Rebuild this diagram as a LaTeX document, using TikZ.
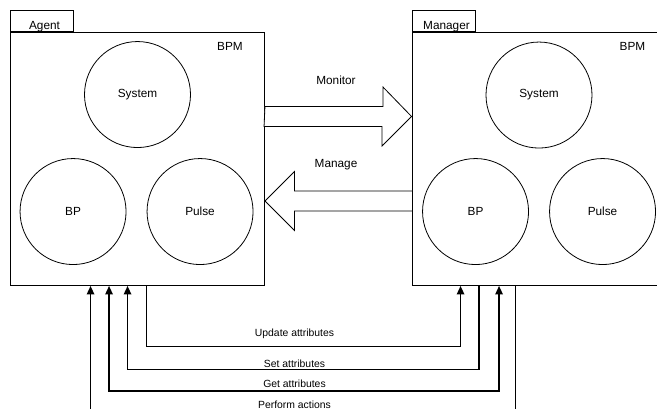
\documentclass[tikz,border=0pt]{standalone}
\usepackage{fontspec}
\setmainfont{Liberation Sans}
\usepackage{tikz}
\usetikzlibrary{calc,positioning,arrows.meta}

\begin{document}
\begin{tikzpicture}[x=1pt,y=-1pt]
	\tikzstyle{every node}=[font=\fontsize{11.8}{14}\selectfont]
	\tikzstyle{pbox}=[draw, rectangle, line width=0.9pt, minimum width=254pt, minimum height=253pt, inner sep=0pt]
	\tikzstyle{ptab}=[draw, rectangle, line width=0.9pt, minimum width=63pt, minimum height=21pt, inner sep=0pt, anchor=south west]
	\tikzstyle{proc}=[draw, circle, line width=0.8pt, minimum size=106pt, inner sep=0pt]
	\tikzstyle{txt}=[anchor=base, inner sep=0pt]
	\tikzstyle{lbl}=[font=\fontsize{10.4}{12}\selectfont, anchor=base, inner sep=0pt]
	\tikzstyle{bigarrow}=[draw, line width=0.8pt, fill=white]
	\tikzstyle{conn}=[line width=1.4pt]
	\tikzstyle{arr}=[-{Triangle[length=8.5pt,width=7.5pt]}]
	\tikzstyle{arrboth}=[{Triangle[length=8.5pt,width=7.5pt]}-{Triangle[length=8.5pt,width=7.5pt]}]
	\useasboundingbox (0,0) rectangle (657,409);
	% agent side
	\node[pbox] (agent) at (137.5,159) {};
	\node[ptab] (agenttab) at (agent.north west) {};
	\node[txt] (agentname) at (44.5,30) {Agent};
	\node[txt, anchor=base east] (agentbpm) at ($(agent.north east)+(-22,18.5)$) {BPM};
	\node[proc] (asys) at ($(agent.north)+(0,62.5)$) {System};
	\node[proc] (abp) at ($(agent.north west)+(63,179.5)$) {BP};
	\node[proc] (apulse) at ($(agent.north west)+(190,179.5)$) {Pulse};
	% manager side
	\node[pbox] (manager) at (539,159) {};
	\node[ptab] (managertab) at (manager.north west) {};
	\node[txt] (managername) at (446.5,30) {Manager};
	\node[txt, anchor=base east] (managerbpm) at ($(manager.north east)+(-21,18.5)$) {BPM};
	\node[proc] (msys) at ($(manager.north)+(0,63)$) {System};
	\node[proc] (mbp) at ($(manager.north west)+(64,179.5)$) {BP};
	\node[proc] (mpulse) at ($(manager.north west)+(191,179.5)$) {Pulse};
	% monitor / manage
	\coordinate (mon) at ($(agent.east)+(0,-42.5)$);
	\coordinate (mng) at ($(agent.east)+(0,42)$);
	\draw[bigarrow] ($(mon)+(0,-10)$) -- ++(118,0) -- ++(0,-19.5) -- (manager.west |- mon) -- ++(-29.5,29.5) -- ++(0,-19.5) -- ++(-118,0) -- cycle;
	\draw[bigarrow] (mng) -- ++(29.5,-29.5) -- ++(0,19.5) -- ++(118,0) -- ++(0,20) -- ++(-118,0) -- ++(0,19.5) -- cycle;
	\node[txt] (monlbl) at (336,85) {Monitor};
	\node[txt] (mnglbl) at (336,167.5) {Manage};
	% attribute lines
	\coordinate (pa1) at ($(agent.south west)+(80.5,0)$);
	\coordinate (ga1) at ($(agent.south west)+(99,0)$);
	\coordinate (sa1) at ($(agent.south west)+(117.5,0)$);
	\coordinate (ua1) at ($(agent.south west)+(136.5,0)$);
	\coordinate (ua2) at ($(manager.south west)+(49,0)$);
	\coordinate (sa2) at ($(manager.south west)+(67.5,0)$);
	\coordinate (ga2) at ($(manager.south west)+(87.5,0)$);
	\coordinate (pa2) at ($(manager.south west)+(104,0)$);
	\coordinate (pa0) at ($(pa1)+(0,126)$);
	\coordinate (pa3) at ($(pa2)+(0,126)$);
	\draw[conn, arr] (ua1) -- ++(0,60.5) -| (ua2);
	\draw[conn, arr] (sa2) -- ++(0,83.5) -| (sa1);
	\draw[conn, arrboth] (ga1) -- ++(0,105) -| (ga2);
	\draw[conn, arr] (pa0) -- (pa1);
	\draw[conn] (pa2) -- (pa3);
	\node[lbl] (updlbl) at (294.5,336.7) {Update attributes};
	\node[lbl] (setlbl) at (294.5,367) {Set attributes};
	\node[lbl] (getlbl) at (294.5,387.5) {Get attributes};
	\node[lbl] (perflbl) at (294.5,408) {Perform actions};
\end{tikzpicture}
\end{document}
